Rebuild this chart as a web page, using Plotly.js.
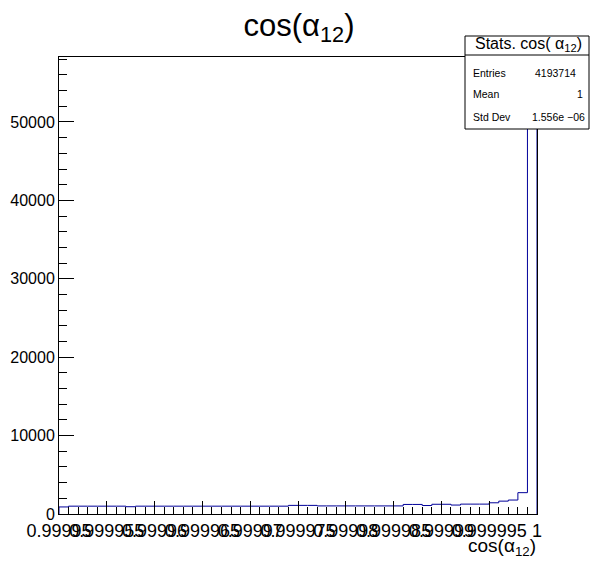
<!DOCTYPE html>
<html>
<head>
<meta charset="utf-8">
<script src="https://cdn.plot.ly/plotly-3.0.1.min.js"></script>
<style>html,body{margin:0;padding:0;background:#fff;}#chart{width:596px;height:572px;}</style>
</head>
<body>
<div id="chart"></div>
<script>
// Histogram definition
const binLow = 0.99995;
const binWidth = 1e-6;
// bin contents (50 bins)
const binCounts = [
  900, 1000, 1000, 1000, 1000, 1000, 1000, 930, 1000, 1000,
  1000, 1000, 1000, 1000, 1000, 1000, 1000, 1000, 1000, 1000,
  1000, 1000, 1000, 1000, 1100, 1100, 1100, 1030, 1030, 1030,
  1030, 1030, 1030, 1030, 1030, 1030, 1220, 1220, 1080, 1240,
  1240, 1140, 1260, 1260, 1260, 1430, 1640, 1780, 2720, 55500
];
const xTickVals = [0.99995, 0.999955, 0.99996, 0.999965, 0.99997, 0.999975, 0.99998, 0.999985, 0.99999, 0.999995, 1.0];
const xTickText = ["0.99995", "0.999955", "0.99996", "0.999965", "0.99997", "0.999975", "0.99998", "0.999985", "0.99999", "0.999995", "1"];
const yTickVals = [0, 10000, 20000, 30000, 40000, 50000];
const yTickText = ["0", "10000", "20000", "30000", "40000", "50000"];
const statsLabels = ["Entries", "Mean", "Std Dev"];
const statsValues = ["4193714", "1", "1.556e \u221206"];

const FONT = "Liberation Sans, Arial, Helvetica, sans-serif";

// step outline
const xs = [binLow];
const ys = [0];
for (let i = 0; i < binCounts.length; i++) {
  xs.push(binLow + i * binWidth);
  ys.push(binCounts[i]);
}
xs.push(binLow + binCounts.length * binWidth);
ys.push(binCounts[binCounts.length - 1]);
xs.push(binLow + binCounts.length * binWidth);
ys.push(0);

const trace = {
  type: 'scatter', mode: 'lines', x: xs, y: ys,
  line: {shape: 'hv', color: '#000099', width: 1},
  hoverinfo: 'skip', showlegend: false
};

// pixel -> paper helpers (plot area 59..537 x, 57..514 y)
const L = 59, R = 537, T = 57, B = 514;
const px = v => (v - L) / (R - L);
const py = v => (B - v) / (B - T);

const shapes = [
  {type: 'rect', xref: 'paper', yref: 'paper', x0: px(465), x1: px(589), y0: py(129), y1: py(36),
   fillcolor: 'white', line: {color: 'black', width: 1}, layer: 'above'},
  {type: 'line', xref: 'paper', yref: 'paper', x0: px(465), x1: px(589), y0: py(55), y1: py(55),
   line: {color: 'black', width: 1}, layer: 'above'}
];

const annotations = [
  {xref: 'paper', yref: 'paper', x: px(528), y: py(45), xanchor: 'center', yanchor: 'middle',
   text: 'Stats. cos( \u03b1<sub>12</sub>)', showarrow: false, font: {family: FONT, size: 16, color: 'black'}},
  {xref: 'paper', yref: 'paper', x: px(538), y: py(547), xanchor: 'right', yanchor: 'middle',
   text: 'cos(\u03b1<sub>12</sub>)', showarrow: false, font: {family: FONT, size: 19, color: 'black'}}
];
const rowY = [73, 94, 117];
const valRight = [578, 585, 587];
for (let i = 0; i < statsLabels.length; i++) {
  annotations.push({xref: 'paper', yref: 'paper', x: px(471), y: py(rowY[i]), xanchor: 'left', yanchor: 'middle',
    text: statsLabels[i], showarrow: false, font: {family: FONT, size: 10.5, color: 'black'}});
  annotations.push({xref: 'paper', yref: 'paper', x: px(valRight[i]), y: py(rowY[i]), xanchor: 'right', yanchor: 'middle',
    text: statsValues[i], showarrow: false, font: {family: FONT, size: 10.5, color: 'black'}});
}

const layout = {
  width: 596, height: 572,
  margin: {l: L, r: 596 - R, t: T, b: 572 - B, pad: 0},
  paper_bgcolor: 'white', plot_bgcolor: 'white',
  title: {text: 'cos(\u03b1<sub>12</sub>)', font: {family: FONT, size: 31, color: 'black'},
          x: 299 / 596, xanchor: 'center', y: 1 - 25 / 572, yanchor: 'middle', xref: 'container', yref: 'container'},
  xaxis: {
    range: [binLow, binLow + binCounts.length * binWidth],
    showgrid: false, zeroline: false, showline: true, mirror: true, linecolor: 'black', linewidth: 1,
    ticks: 'inside', ticklen: 13, tickcolor: 'black', tickwidth: 1,
    tickmode: 'array', tickvals: xTickVals, ticktext: xTickText, tickangle: 0,
    tickfont: {family: FONT, size: 18, color: 'black'},
    minor: {ticks: 'inside', ticklen: 7, tickcolor: 'black', tickwidth: 1, dtick: binWidth, tick0: binLow, showgrid: false}
  },
  yaxis: {
    range: [0, 58290],
    showgrid: false, zeroline: false, showline: true, mirror: true, linecolor: 'black', linewidth: 1,
    ticks: 'inside', ticklen: 15, tickcolor: 'black', tickwidth: 1,
    tickmode: 'array', tickvals: yTickVals, ticktext: yTickText,
    tickfont: {family: FONT, size: 16, color: 'black'},
    minor: {ticks: 'inside', ticklen: 8, tickcolor: 'black', tickwidth: 1, dtick: 2000, tick0: 0, showgrid: false}
  },
  shapes: shapes,
  annotations: annotations,
  showlegend: false
};

Plotly.newPlot('chart', [trace], layout, {displayModeBar: false, staticPlot: true});
</script>
</body>
</html>
